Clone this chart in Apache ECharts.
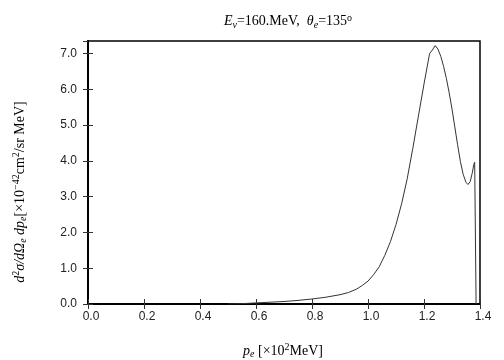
<!DOCTYPE html>
<html>
<head>
<meta charset="utf-8">
<script src="https://cdn.jsdelivr.net/npm/echarts@6/dist/echarts.min.js"></script>
<style>
  html, body { margin: 0; padding: 0; background: #fff; }
  #chart { width: 504px; height: 360px; }
</style>
</head>
<body>
<div id="chart"></div>
<script>
// p_e in units of 10^2 MeV
var momentum = [0.50, 0.55, 0.60, 0.65, 0.70, 0.75, 0.80, 0.85, 0.90, 0.93,
  0.96, 0.98, 1.00, 1.02, 1.04, 1.06, 1.08, 1.10, 1.12, 1.14,
  1.16, 1.18, 1.20, 1.22, 1.23, 1.24, 1.25, 1.26, 1.27, 1.28,
  1.29, 1.30, 1.31, 1.32, 1.33, 1.34, 1.35, 1.357, 1.365, 1.372,
  1.378, 1.381, 1.386];
// d2sigma/dOmega dp_e  [10^-42 cm^2/sr MeV]
var crossSection = [0.00, 0.01, 0.03, 0.05, 0.07, 0.10, 0.14, 0.19, 0.26, 0.32,
  0.42, 0.52, 0.64, 0.82, 1.04, 1.36, 1.74, 2.22, 2.80, 3.50,
  4.35, 5.25, 6.15, 7.00, 7.10, 7.22, 7.12, 6.92, 6.64, 6.30,
  5.90, 5.45, 4.95, 4.45, 3.98, 3.62, 3.40, 3.34, 3.42, 3.65,
  3.90, 3.96, 0.00];
var xTicks = [0.0, 0.2, 0.4, 0.6, 0.8, 1.0, 1.2, 1.4];
var yTicks = [0, 1, 2, 3, 4, 5, 6, 7];

var points = momentum.map(function (p, i) { return [p, crossSection[i]]; });

var chart = echarts.init(document.getElementById('chart'));

var serif = '"Liberation Serif", "DejaVu Serif", serif';
var sans = '"Liberation Sans", Arial, sans-serif';

function isTick(list, v) {
  return list.some(function (t) { return Math.abs(t - v) < 1e-6; });
}

// rich text styles for the math-like labels
function mathRich(colorKey) {
  var base = { fontFamily: serif, fontWeight: 'normal' };
  var c = {};
  c[colorKey] = '#000';
  return {
    n: Object.assign({ fontSize: 14 }, base, c),
    i: Object.assign({ fontSize: 14, fontStyle: 'italic' }, base, c),
    sub: Object.assign({ fontSize: 10, fontStyle: 'italic', verticalAlign: 'bottom', padding: [7, 0, 0, 0] }, base, c),
    sup: Object.assign({ fontSize: 10, verticalAlign: 'top', padding: [0, 0, 7, 0] }, base, c)
  };
}

var option = {
  animation: false,
  backgroundColor: '#fff',
  grid: { left: 88, right: 24, top: 41, bottom: 56, show: true, borderColor: '#000', borderWidth: 1.5 },
  title: {
    text: '{i|E}{sub|ν}{n|=160.MeV,  }{i|θ}{sub|e}{n|=135}{sup|o}',
    left: 283, top: 8, textAlign: 'center',
    textStyle: { fontWeight: 'normal', rich: mathRich('color') }
  },
  graphic: [
    {
      type: 'text', x: 20, y: 192, rotation: Math.PI / 2,
      style: {
        text: '{i|d}{sup|2}{i|σ/dΩ}{sub|e}{n| }{i|dp}{sub|e}{n|[×10}{sup|−42}{n|cm}{sup|2}{n|/sr MeV]}',
        align: 'center', verticalAlign: 'middle',
        rich: mathRich('fill')
      }
    },
    {
      type: 'text', x: 283, y: 351,
      style: {
        text: '{i|p}{sub|e}{n| [×10}{sup|2}{n|MeV]}',
        align: 'center', verticalAlign: 'middle',
        rich: mathRich('fill')
      }
    }
  ],
  xAxis: [
    {
      type: 'value', min: 0, max: 1.4, interval: 0.2,
      axisLine: { show: true, lineStyle: { color: '#000', width: 2 } },
      axisTick: { show: true, inside: true, length: 5, lineStyle: { color: '#333' } },
      splitLine: { show: false },
      axisLabel: {
        color: '#222', fontFamily: sans, fontSize: 12, margin: 7,
        padding: [0, 0, 0, 6],
        formatter: function (v) { return isTick(xTicks, v) ? v.toFixed(1) : ''; }
      }
    },
    {
      type: 'value', position: 'top', min: 0, max: 1.4, interval: 0.2,
      axisLine: { show: true, lineStyle: { color: '#000', width: 1.5 } },
      axisTick: { show: true, inside: true, length: 5, lineStyle: { color: '#333' } },
      axisLabel: { show: false }, splitLine: { show: false }
    }
  ],
  yAxis: [
    {
      type: 'value', min: 0, max: 7.35, interval: 1,
      axisLine: { show: true, lineStyle: { color: '#000', width: 2 } },
      axisTick: { show: true, inside: true, length: 5, lineStyle: { color: '#333' } },
      splitLine: { show: false },
      axisLabel: {
        color: '#222', fontFamily: sans, fontSize: 12, margin: 11,
        showMaxLabel: false,
        formatter: function (v) { return isTick(yTicks, v) ? v.toFixed(1) : ''; }
      }
    },
    {
      type: 'value', position: 'right', min: 0, max: 7.35, interval: 1,
      axisLine: { show: true, lineStyle: { color: '#000', width: 1.5 } },
      axisTick: { show: true, inside: true, length: 5, lineStyle: { color: '#333' } },
      axisLabel: { show: false }, splitLine: { show: false }
    }
  ],
  series: [
    {
      type: 'line',
      data: points,
      showSymbol: false,
      smooth: false,
      lineStyle: { color: '#333', width: 1 }
    }
  ]
};

chart.setOption(option);
</script>
</body>
</html>
